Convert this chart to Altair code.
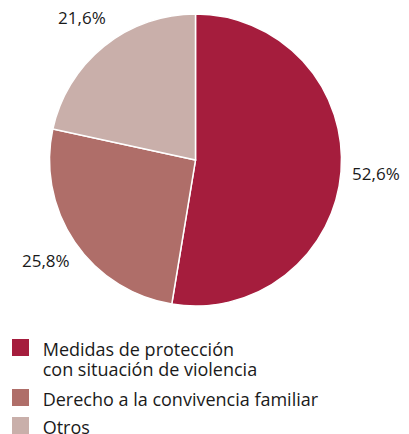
import altair as alt
import pandas as pd

categories = ["Medidas de protección\ncon situación de violencia",
              "Derecho a la convivencia familiar",
              "Otros"]
values = [52.6, 25.8, 21.6]
labels = ["52,6%", "25,8%", "21,6%"]
colors = ["#a51d3d", "#af6e69", "#c9afaa"]

df = pd.DataFrame({"cat": categories, "value": values, "label": labels,
                   "idx": list(range(len(values)))})

FONT = "Open Sans"
TXT = "#1a1a1a"
CX, CY, R = 187.5, 152, 146

color = alt.Color("cat:N", scale=alt.Scale(domain=categories, range=colors),
                  legend=None)

base = alt.Chart(df).encode(
    theta=alt.Theta("value:Q", stack=True),
    order=alt.Order("idx:Q"),
)

arc = base.mark_arc(outerRadius=R, stroke="white", strokeWidth=1.5).encode(
    x=alt.value(CX), y=alt.value(CY), color=color,
)

text = base.mark_text(radius=181, font=FONT, fontSize=17, color=TXT).encode(
    x=alt.value(CX), y=alt.value(CY),
    text="label:N",
)

# legend rows (positions of the entries as a scale of the entry index)
leg_y = alt.Y("idx:Q", scale=alt.Scale(domain=[0, 1, 2],
                                       range=[339.5, 389.5, 417.5]),
              axis=None)

leg_sq = alt.Chart(df).mark_square(size=289, opacity=1, strokeWidth=0).encode(
    x=alt.value(12.5), y=leg_y, color=color,
)

leg_txt = alt.Chart(df).mark_text(
    align="left", baseline="alphabetic", dy=8.5, lineBreak="\n", lineHeight=20,
    font=FONT, fontSize=18, color=TXT,
).encode(x=alt.value(34.7), y=leg_y, text="cat:N")

chart = alt.layer(arc, text, leg_sq, leg_txt).properties(
    width=393, height=426, padding=0,
    autosize=alt.AutoSizeParams(type="none"),
).configure_view(stroke=None)

chart.save("out.html", embed_options={"renderer": "svg", "actions": False})
